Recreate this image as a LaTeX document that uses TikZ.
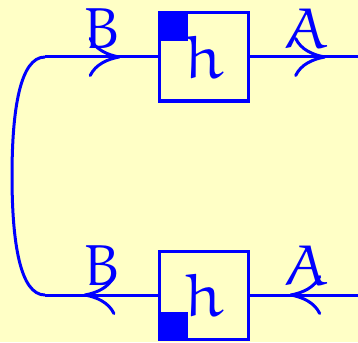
\documentclass[tikz,border=0pt]{standalone}
\usetikzlibrary{arrows.meta,decorations.markings}
\definecolor{paper}{RGB}{255,255,198}
\definecolor{ink}{RGB}{0,0,255}
% Euler Roman for the letters
\font\eulerbig=eurm10 at 58pt
\font\eulerbox=eurm10 at 62pt
\begin{document}
\begin{tikzpicture}[x=1pt,y=-1pt,
  wire/.style={draw=ink,line width=3pt},
  mapbox/.style={draw=ink,line width=3pt,minimum width=89pt,minimum height=88pt,inner sep=0pt,text=ink,font=\eulerbox},
  flowtip/.style={postaction={decorate},decoration={markings,
      mark=at position #1 with {\arrow[ink,line width=3pt]{Computer Modern Rightarrow[length=32pt,width=40pt]}}}},
  lbl/.style={text=ink,inner sep=0pt,font=\eulerbig}]
  % page
  \fill[paper] (0,0) rectangle (358,342);
  \useasboundingbox (0,0) rectangle (358,342);

  % the two boxes
  \node[mapbox] (h1) at (204,57) {h};
  \node[mapbox] (h2) at (204,295) {h};
  \fill[ink] (h1.north west) rectangle ++(30,30);
  \fill[ink] (h2.south west) rectangle ++(30,-29);

  % wire ends
  \coordinate (tl) at (45,57);
  \coordinate (bl) at (45,295);
  \coordinate (tr) at (362,57);
  \coordinate (br) at (362,295);

  % wires
  \draw[wire,flowtip=0.67] (tl) -- (h1.west);
  \draw[wire,flowtip=0.68] (h1.east) -- (tr);
  \draw[wire,flowtip=0.65] (br) -- (h2.east);
  \draw[wire,flowtip=0.66] (h2.west) -- (bl);
  \draw[wire] (tl) .. controls (20,57) and (12,110) .. (12,176)
                   .. controls (12,242) and (20,295) .. (bl);

  % labels
  \node[lbl] (b1) at (103,28) {B};
  \node[lbl] (a1) at (307,28) {A};
  \node[lbl] (b2) at (103,265) {B};
  \node[lbl] (a2) at (307,265) {A};
\end{tikzpicture}
\end{document}
